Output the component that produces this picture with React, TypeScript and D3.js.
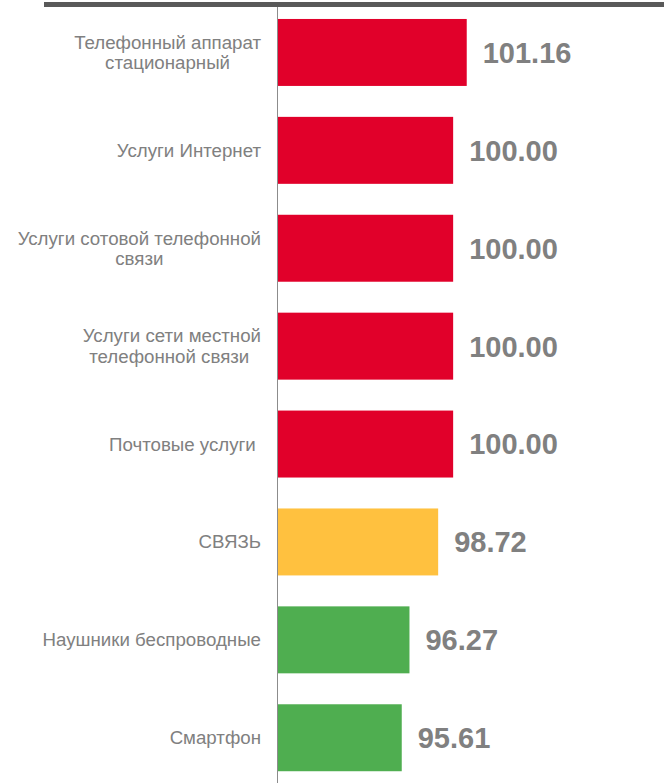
import React, { useEffect, useRef } from "react";
import * as d3 from "d3";

const categories: string[][] = [
  ["Телефонный аппарат", "стационарный"],
  ["Услуги Интернет"],
  ["Услуги сотовой телефонной", "связи"],
  ["Услуги сети местной", "телефонной связи "],
  ["Почтовые услуги "],
  ["СВЯЗЬ"],
  ["Наушники беспроводные"],
  ["Смартфон"],
];
const values: number[] = [101.16, 100.0, 100.0, 100.0, 100.0, 98.72, 96.27, 95.61];
const barColors: string[] = [
  "#E1002A", "#E1002A", "#E1002A", "#E1002A", "#E1002A", "#FFC13F", "#4FAE50", "#4FAE50",
];

const W = 664;
const H = 783;
const FONT = "'Liberation Sans', Arial, sans-serif";

export default function App() {
  const ref = useRef<SVGSVGElement | null>(null);

  useEffect(() => {
    const svg = d3.select(ref.current);
    svg.selectAll("*").remove();

    const ids = categories.map((_, i) => String(i));
    const y = d3.scaleBand<string>().domain(ids).range([3.5, 786.7]).paddingInner(0.316).paddingOuter(0.158);
    const x = d3.scaleLinear().domain([85, 105]).range([277.5, 511.7]);

    // top border bar
    svg.append("rect").attr("x", 44).attr("y", 2).attr("width", W - 44).attr("height", 5).attr("fill", "#595959");

    // bars
    svg.selectAll("rect.bar")
      .data(values)
      .join("rect")
      .attr("class", "bar")
      .attr("x", x(85))
      .attr("y", (_, i) => y(ids[i])!)
      .attr("width", (d) => x(d) - x(85))
      .attr("height", y.bandwidth())
      .attr("fill", (_, i) => barColors[i]);

    // axis line
    svg.append("line")
      .attr("x1", x(85)).attr("x2", x(85))
      .attr("y1", 7).attr("y2", H)
      .attr("stroke", "#8c8c8c").attr("stroke-width", 1);

    // value labels
    svg.selectAll("text.val")
      .data(values)
      .join("text")
      .attr("class", "val")
      .attr("x", (d) => x(d) + 16)
      .attr("y", (_, i) => y(ids[i])! + y.bandwidth() / 2)
      .attr("dy", "0.36em")
      .attr("font-family", FONT)
      .attr("font-weight", "bold")
      .attr("font-size", 29)
      .attr("fill", "#808080")
      .text((d) => d.toFixed(2));

    // category labels
    const rightEdge = 261;
    const lineH = 20.5;
    categories.forEach((lines, i) => {
      const cy = y(ids[i])! + y.bandwidth() / 2;
      const g = svg.append("g");
      const texts = lines.map((ln, j) =>
        g.append("text")
          .attr("y", cy + (j - (lines.length - 1) / 2) * lineH)
          .attr("dy", "0.35em")
          .attr("text-anchor", "middle")
          .attr("font-family", FONT)
          .attr("font-size", 18.7)
          .attr("fill", "#808080")
          .style("white-space", "pre")
          .text(ln)
      );
      const maxW = d3.max(texts, (t) => (t.node() as SVGTextElement).getComputedTextLength()) || 0;
      texts.forEach((t) => t.attr("x", rightEdge - maxW / 2));
    });
  }, []);

  return (
    <svg ref={ref} width={W} height={H} style={{ position: "absolute", left: 0, top: 0, background: "#fff" }} />
  );
}
